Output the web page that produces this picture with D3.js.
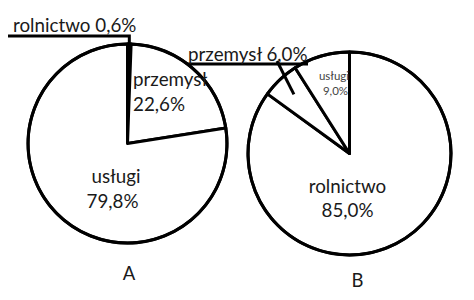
<!DOCTYPE html>
<html><head><meta charset="utf-8">
<script src="https://cdn.jsdelivr.net/npm/d3@7"></script>
<style>
html,body{margin:0;padding:0;background:#fff;}
svg{display:block;}
text{font-family:Lato,"Open Sans",sans-serif;fill:#1a1a1a;}
</style></head>
<body>
<svg id="chart" width="474" height="300"></svg>
<script>
// ---- data ----
const categories = ["rolnictwo", "przemysł", "usługi"];
const valuesA = [0.6, 22.6, 79.8];
const valuesB = [85.0, 6.0, 9.0];
const chartNames = ["A", "B"];

const svg = d3.select("#chart");
const fmt = v => d3.format(".1f")(v).replace(".", ",") + "%";
const FS = 18.8;

function drawPie(cx, cy, r, values, opts) {
  const g = svg.append("g").attr("transform", `translate(${cx},${cy})`);
  const pie = d3.pie().sort(null).value(d => d.v)
    .startAngle(opts.start).endAngle(opts.start + 2 * Math.PI);
  const data = categories.map((c, i) => ({c, v: values[i]}));
  const arcs = pie(data);
  const arc = d3.arc().innerRadius(0).outerRadius(r);
  g.selectAll("path.slice").data(arcs).join("path")
    .attr("class", "slice")
    .attr("d", arc)
    .attr("fill", d => (opts.black && d.data.c === opts.black) ? "#000" : "#fff")
    .attr("stroke", "#000").attr("stroke-width", 3).attr("stroke-linejoin", "round");
  g.append("circle").attr("r", r).attr("fill", "none").attr("stroke", "#000").attr("stroke-width", 3);
  return {g, arcs, arc};
}

// ---- Pie A ----
const A = drawPie(127.5, 143.5, 99.5, valuesA, {start: 0, black: "rolnictwo"});
{
  const a = A.arcs.find(d => d.data.c === "rolnictwo");
  const ang = (a.startAngle + a.endAngle) / 2;
  const px = 127.5 + 99.5 * Math.sin(ang), py = 143.5 - 99.5 * Math.cos(ang);
  svg.append("path").attr("d", `M8,36 L${px},36 L${px},${py}`)
    .attr("fill", "none").attr("stroke", "#000").attr("stroke-width", 3);
  svg.append("text").attr("x", 13).attr("y", 32).attr("font-size", FS)
    .text("rolnictwo " + fmt(valuesA[0]));
}
svg.append("text").attr("x", 133).attr("y", 86).attr("font-size", FS).text("przemysł");
svg.append("text").attr("x", 133).attr("y", 111).attr("font-size", FS).text(fmt(valuesA[1]));
svg.append("text").attr("x", 116).attr("y", 183).attr("font-size", FS).attr("text-anchor", "middle").text("usługi");
svg.append("text").attr("x", 112.5).attr("y", 208).attr("font-size", FS).attr("text-anchor", "middle").text(fmt(valuesA[2]));
svg.append("text").attr("x", 129).attr("y", 280).attr("font-size", 18.5).attr("text-anchor", "middle").text(chartNames[0]);

// ---- Pie B ----
const B = drawPie(349.5, 153.5, 101.5, valuesB, {start: 0});
{
  const a = B.arcs.find(d => d.data.c === "przemysł");
  const ang = (a.startAngle + a.endAngle) / 2;
  const rr = 101.5 * 0.8;
  const px = 349.5 + rr * Math.sin(ang), py = 153.5 - rr * Math.cos(ang);
  svg.append("path").attr("d", `M188,64 L308,64`)
    .attr("fill", "none").attr("stroke", "#000").attr("stroke-width", 3);
  svg.append("path").attr("d", `M277,61 L${px},${py}`)
    .attr("fill", "none").attr("stroke", "#000").attr("stroke-width", 3);
  svg.append("text").attr("x", 188).attr("y", 61).attr("font-size", FS)
    .text("przemysł " + fmt(valuesB[1]));
}
svg.append("text").attr("x", 334).attr("y", 80).attr("font-size", 11.5).attr("text-anchor", "middle").style("fill", "#444").text("usługi");
svg.append("text").attr("x", 335.5).attr("y", 95).attr("font-size", 11.5).attr("text-anchor", "middle").style("fill", "#444").text(fmt(valuesB[2]));
svg.append("text").attr("x", 347.5).attr("y", 193).attr("font-size", FS).attr("text-anchor", "middle").text("rolnictwo");
svg.append("text").attr("x", 347.5).attr("y", 217).attr("font-size", FS).attr("text-anchor", "middle").text(fmt(valuesB[0]));
svg.append("text").attr("x", 357.5).attr("y", 287).attr("font-size", 18.5).attr("text-anchor", "middle").text(chartNames[1]);
</script>
</body></html>
